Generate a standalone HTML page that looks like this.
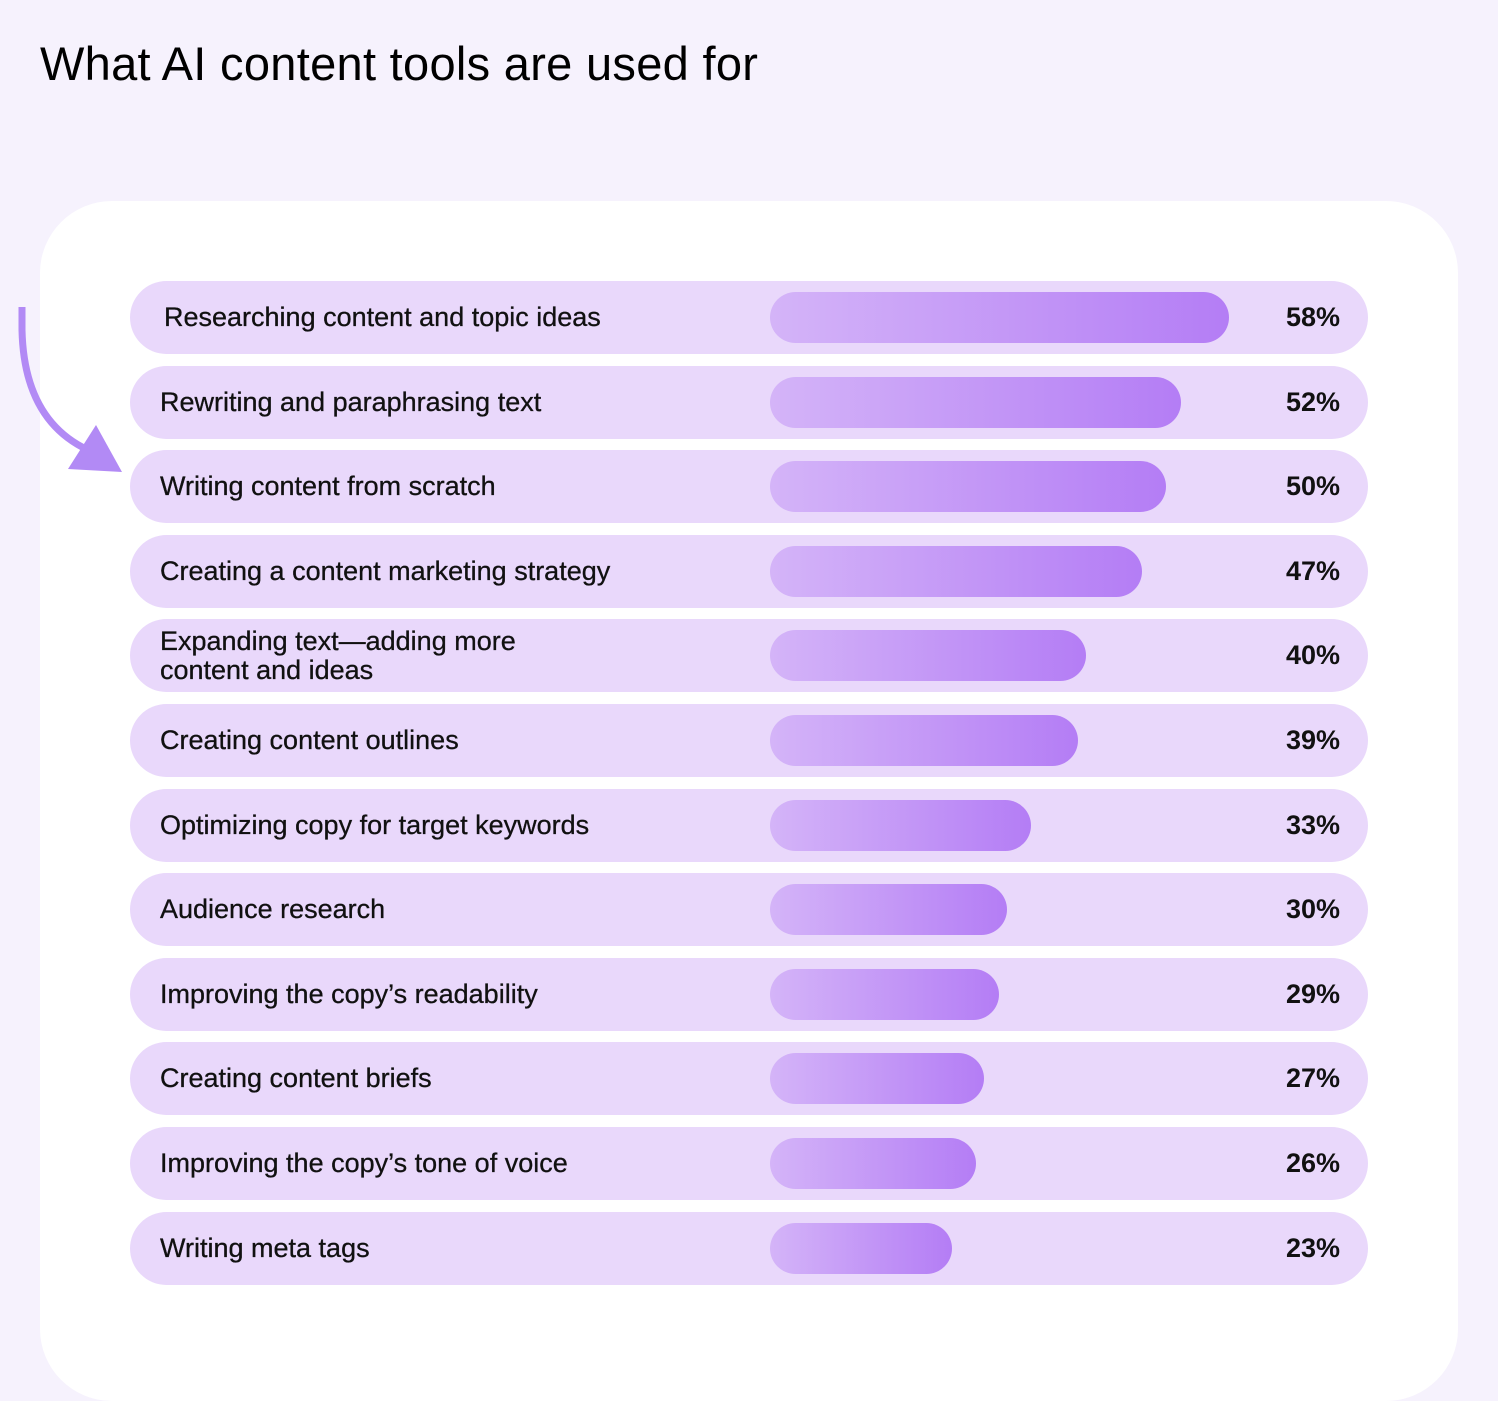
<!DOCTYPE html>
<html><head><meta charset="utf-8"><style>
body{margin:0;width:1498px;height:1296px;overflow:hidden;background:#F6F2FD;font-family:"Liberation Sans",sans-serif;position:relative}
h1{position:absolute;left:40px;top:36px;margin:0;font-size:47px;font-weight:normal;color:#000;letter-spacing:0.3px}
#card{position:absolute;left:40px;top:201px;width:1418px;height:1200px;background:#fff;border-radius:72px}
.row{position:absolute;left:130px;width:1238px;height:73px;background:#E9D8FB;border-radius:37px}
.lbl{position:absolute;left:30px;top:0;height:73px;display:flex;align-items:center;font-size:27px;color:#111;line-height:29px;-webkit-text-stroke:0.3px #111}
.bar{position:absolute;left:640px;top:11px;height:51px;border-radius:26px;background:linear-gradient(90deg,#D4B4F8,#B47DF5)}
.pct{position:absolute;right:28px;top:0;height:73px;display:flex;align-items:center;font-size:27px;font-weight:bold;color:#111}
</style></head><body>
<h1>What AI content tools are used for</h1>
<div id="card"></div>
<svg style="position:absolute;left:0;top:0" width="200" height="520">
<path d="M22 307 L22 330 Q24 420 88 450" fill="none" stroke="#B28AF5" stroke-width="7"/>
<polygon points="68,469 122,472 96,425" fill="#B28AF5"/>
</svg>
<div id="rows"></div>
<script>
const categories=["Researching content and topic ideas","Rewriting and paraphrasing text","Writing content from scratch","Creating a content marketing strategy","Expanding text—adding more<br>content and ideas","Creating content outlines","Optimizing copy for target keywords","Audience research","Improving the copy’s readability","Creating content briefs","Improving the copy’s tone of voice","Writing meta tags"];
const values=[58,52,50,47,40,39,33,30,29,27,26,23];
const x=v=>v*7.91;
const container=document.getElementById('rows');
categories.forEach((c,i)=>{
const r=document.createElement('div');r.className='row';r.style.top=(281+i*84.6)+'px';


const l=document.createElement('div');l.className='lbl';l.innerHTML=c;if(i===0)l.style.left='34px';


const b=document.createElement('div');b.className='bar';b.style.width=x(values[i])+'px';


const p=document.createElement('div');p.className='pct';p.textContent=values[i]+'%';


r.append(l,b,p);container.appendChild(r);
});
</script>
</body></html>
